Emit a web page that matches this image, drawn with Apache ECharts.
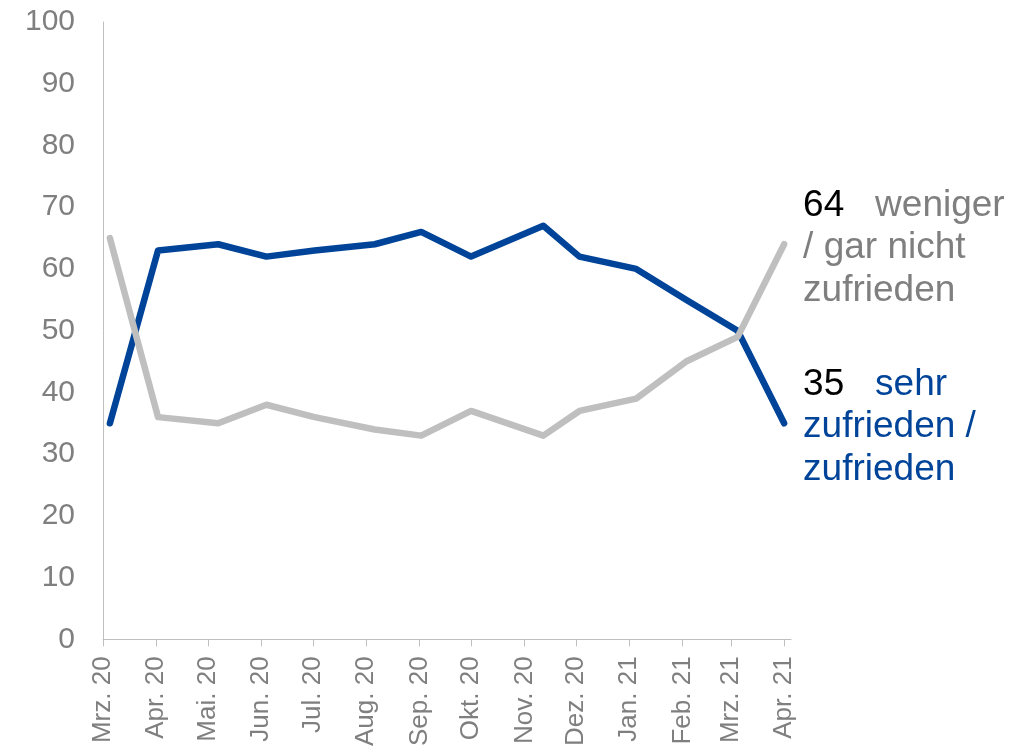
<!DOCTYPE html>
<html>
<head>
<meta charset="utf-8">
<script src="https://cdn.jsdelivr.net/npm/echarts@6/dist/echarts.min.js"></script>
<style>
html,body{margin:0;padding:0;background:#fff;}
#chart{width:1035px;height:749px;}
</style>
</head>
<body>
<div id="chart"></div>
<script>
// ---- data ----
const monthLabels = ['Mrz. 20','Apr. 20','Mai. 20','Jun. 20','Jul. 20','Aug. 20','Sep. 20','Okt. 20','Nov. 20','Dez. 20','Jan. 21','Feb. 21','Mrz. 21','Apr. 21'];
const monthStarts = ['2020-03-01','2020-04-01','2020-05-01','2020-06-01','2020-07-01','2020-08-01','2020-09-01','2020-10-01','2020-11-01','2020-12-01','2021-01-01','2021-02-01','2021-03-01','2021-04-01'];
const surveyDates = ['2020-03-05','2020-04-02','2020-05-07','2020-06-04','2020-07-02','2020-08-06','2020-09-02','2020-10-01','2020-11-12','2020-12-03','2021-01-05','2021-02-03','2021-03-05','2021-04-01'];
const satisfied    = [35,63,64,62,63,64,66,62,67,62,60,55,50,35];
const dissatisfied = [65,36,35,38,36,34,33,37,33,37,39,45,49,64];
const yTicks = [0,10,20,30,40,50,60,70,80,90,100];
const satisfiedLabel = ['sehr', 'zufrieden /', 'zufrieden'];
const dissatisfiedLabel = ['weniger', '/ gar nicht', 'zufrieden'];

// ---- helpers ----
const origin = Date.UTC(2020, 2, 1);
function dayOf(s) {
  const p = s.split('-').map(Number);
  return (Date.UTC(p[0], p[1] - 1, p[2]) - origin) / 86400000;
}
const tickDays = monthStarts.map(dayOf);
const endDay = dayOf('2021-04-05');
function pairs(vals) { return surveyDates.map((d, i) => [dayOf(d), vals[i]]); }

const FONT = '"Liberation Sans", Arial, sans-serif';
const BLUE = '#004499';
const GREY = '#bfbfbf';
const AXIS_TEXT = '#7f7f7f';

function endLabel(color, lines) {
  return {
    show: true,
    distance: 19,
    offset: [0, 4],
    formatter: function (p) {
      return '{v|' + p.value[1] + '}{t|   ' + lines[0] + '}\n{t|' + lines[1] + '}\n{t|' + lines[2] + '}';
    },
    rich: {
      v: { fontFamily: FONT, fontSize: 37, color: '#000', lineHeight: 42.5 },
      t: { fontFamily: FONT, fontSize: 37, color: color, lineHeight: 42.5 }
    }
  };
}

const chart = echarts.init(document.getElementById('chart'), null, { renderer: 'canvas' });
chart.setOption({
  animation: false,
  backgroundColor: '#fff',
  grid: { left: 103, right: 244, top: 22, bottom: 106, containLabel: false },
  xAxis: {
    type: 'value',
    min: 0,
    max: endDay,
    splitLine: { show: false },
    axisLine: { show: true, lineStyle: { color: GREY, width: 1 } },
    axisTick: { show: true, length: 7, lineStyle: { color: GREY }, customValues: tickDays },
    axisLabel: {
      customValues: tickDays,
      rotate: 90,
      margin: 17,
      fontFamily: FONT,
      fontSize: 26,
      color: AXIS_TEXT,
      formatter: function (v) {
        const i = tickDays.indexOf(v);
        return i >= 0 ? monthLabels[i] : '';
      }
    }
  },
  yAxis: {
    type: 'value',
    min: yTicks[0],
    max: yTicks[yTicks.length - 1],
    interval: 10,
    splitLine: { show: false },
    axisLine: { show: true, lineStyle: { color: GREY, width: 1 } },
    axisTick: { show: false },
    axisLabel: { margin: 28, fontFamily: FONT, fontSize: 30, color: AXIS_TEXT }
  },
  series: [
    {
      name: 'sehr zufrieden / zufrieden',
      type: 'line',
      data: pairs(satisfied),
      showSymbol: false,
      lineStyle: { color: BLUE, width: 6.5, cap: 'round', join: 'round' },
      itemStyle: { color: BLUE },
      endLabel: endLabel(BLUE, satisfiedLabel),
      z: 2
    },
    {
      name: 'weniger / gar nicht zufrieden',
      type: 'line',
      data: pairs(dissatisfied),
      showSymbol: false,
      lineStyle: { color: GREY, width: 6.5, cap: 'round', join: 'round' },
      itemStyle: { color: GREY },
      endLabel: endLabel(AXIS_TEXT, dissatisfiedLabel),
      z: 3
    }
  ]
});
</script>
</body>
</html>
